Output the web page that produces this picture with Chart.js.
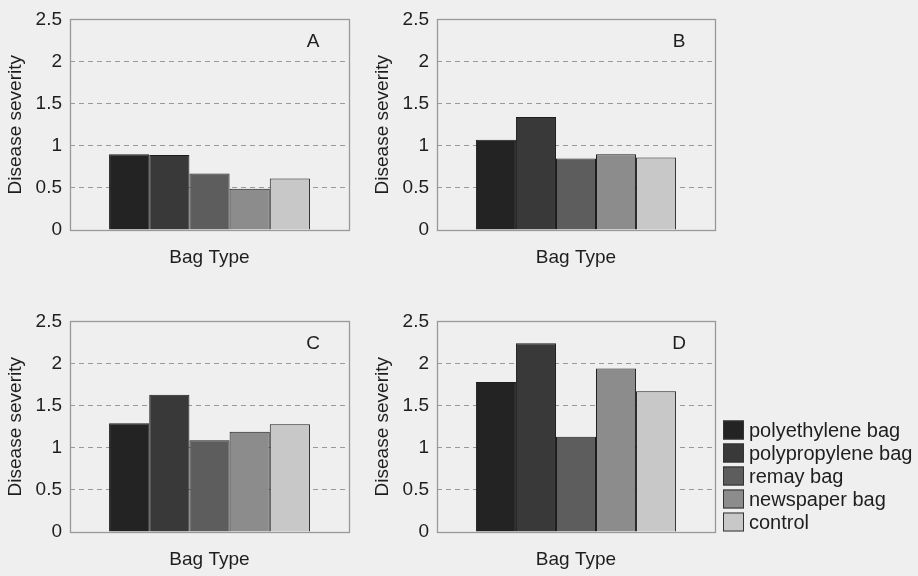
<!DOCTYPE html>
<html>
<head>
<meta charset="utf-8">
<title>Disease severity by bag type</title>
<script src="https://cdn.jsdelivr.net/npm/chart.js@4.4.0/dist/chart.umd.min.js"></script>
<style>
    html, body { margin: 0; padding: 0; width: 918px; height: 576px; overflow: hidden; background: #efefef; }
    .panel { position: absolute; }
    #panelA { left: 0;     top: 0;     width: 360px; height: 290px; }
    #panelB { left: 367px; top: 0;     width: 360px; height: 290px; }
    #panelC { left: 0;     top: 302px; width: 360px; height: 290px; }
    #panelD { left: 367px; top: 302px; width: 551px; height: 290px; }
</style>
</head>
<body>
<div class="panel" id="panelA"><canvas id="chartA"></canvas></div>
<div class="panel" id="panelB"><canvas id="chartB"></canvas></div>
<div class="panel" id="panelC"><canvas id="chartC"></canvas></div>
<div class="panel" id="panelD"><canvas id="chartD"></canvas></div>

<script>
// --- DATA ---
const categories = ['Bag Type'];
const seriesNames = ['polyethylene bag', 'polypropylene bag', 'remay bag', 'newspaper bag', 'control'];
const panelA = [0.90, 0.89, 0.67, 0.49, 0.61];
const panelB = [1.07, 1.34, 0.85, 0.90, 0.86];
const panelC = [1.29, 1.63, 1.09, 1.19, 1.28];
const panelD = [1.78, 2.24, 1.13, 1.94, 1.67];
const yTickLabels = ['0', '0.5', '1', '1.5', '2', '2.5'];

const barColors = ['#232323', '#393939', '#5d5d5d', '#8c8c8c', '#c8c8c8'];
const textColor = '#1e1e1e';

document.addEventListener('DOMContentLoaded', () => {

    Chart.defaults.font.family = "'Liberation Sans', Arial, sans-serif";
    Chart.defaults.font.size = 19;
    Chart.defaults.color = textColor;

    // --- 1. FRAME + PANEL LETTER PLUGIN ---
    const panelFrame = {
        id: 'panelFrame',
        afterDatasetsDraw(chart, args, opts) {
            const { ctx, chartArea: a } = chart;
            ctx.save();
            ctx.strokeStyle = '#999999';
            ctx.lineWidth = 1.3;
            ctx.strokeRect(Math.round(a.left) + 0.5, Math.round(a.top) + 0.5,
                           Math.round(a.width), Math.round(a.height));
            ctx.fillStyle = textColor;
            ctx.font = "19px 'Liberation Sans', Arial, sans-serif";
            ctx.textAlign = 'center';
            ctx.textBaseline = 'middle';
            ctx.fillText(opts.letter, a.right - 36, a.top + 22);
            ctx.restore();
        }
    };

    // --- 2. LEGEND (only on panel D, outside the plot box) ---
    const sideLegend = {
        id: 'sideLegend',
        afterDraw(chart, args, opts) {
            if (!opts.show) return;
            const { ctx, chartArea: a } = chart;
            const sets = chart.data.datasets;
            ctx.save();
            ctx.font = "20px 'Liberation Sans', Arial, sans-serif";
            ctx.textBaseline = 'middle';
            ctx.textAlign = 'left';
            sets.forEach((ds, i) => {
                const cy = a.bottom - 10 - (sets.length - 1 - i) * 23;
                ctx.fillStyle = ds.backgroundColor;
                ctx.fillRect(a.right + 8, cy - 9.5, 21, 19);
                ctx.strokeStyle = '#333';
                ctx.lineWidth = 1;
                ctx.strokeRect(a.right + 8.5, cy - 9, 20, 18);
                ctx.fillStyle = textColor;
                ctx.fillText(ds.label, a.right + 34, cy + 1);
            });
            ctx.restore();
        }
    };

    // --- 3. ONE PANEL ---
    function makePanel(canvasId, letter, values, padRight, showLegend) {
        const ctx = document.getElementById(canvasId).getContext('2d');
        return new Chart(ctx, {
            type: 'bar',
            data: {
                labels: categories,
                datasets: seriesNames.map((name, i) => ({
                    label: name,
                    data: [values[i]],
                    backgroundColor: barColors[i],
                    borderColor: '#1c1c1c',
                    borderWidth: 1,
                    categoryPercentage: 0.72,
                    barPercentage: 1.0
                }))
            },
            options: {
                responsive: true,
                maintainAspectRatio: false,
                animation: false,
                layout: { padding: { top: 15, right: padRight, left: 0, bottom: 0 } },
                plugins: {
                    legend: { display: false },
                    tooltip: { enabled: false },
                    panelFrame: { letter: letter },
                    sideLegend: { show: showLegend }
                },
                scales: {
                    x: {
                        ticks: { display: false },
                        grid: { display: false },
                        border: { display: false },
                        title: {
                            display: true,
                            text: 'Bag Type',
                            padding: { top: 0, bottom: 21 }
                        },
                        afterFit: s => { s.height = 60; }
                    },
                    y: {
                        min: 0,
                        max: 2.5,
                        ticks: {
                            stepSize: 0.5,
                            padding: 8,
                            callback: (v, i) => yTickLabels[i]
                        },
                        grid: {
                            drawTicks: false,
                            lineWidth: 1,
                            color: c => (c.tick && c.tick.value > 0 && c.tick.value < 2.5) ? '#999999' : 'rgba(0,0,0,0)'
                        },
                        border: { display: false, dash: [5, 4] },
                        title: {
                            display: true,
                            text: 'Disease severity',
                            padding: { top: 4, bottom: 4 }
                        },
                        afterFit: s => { s.width = 70; }
                    }
                }
            },
            plugins: [panelFrame, sideLegend]
        });
    }

    makePanel('chartA', 'A', panelA, 11, false);
    makePanel('chartB', 'B', panelB, 12, false);
    makePanel('chartC', 'C', panelC, 11, false);
    makePanel('chartD', 'D', panelD, 203, true);
});
</script>
</body>
</html>
